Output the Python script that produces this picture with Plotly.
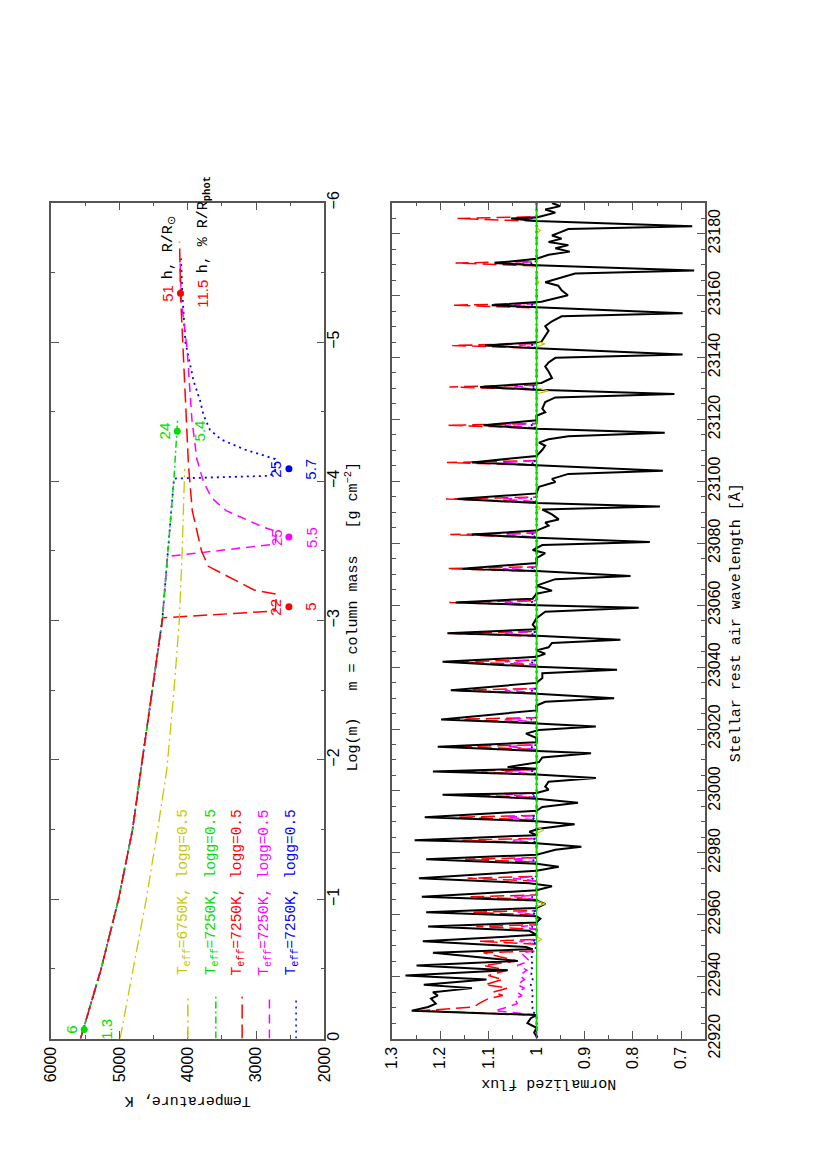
import plotly.graph_objects as go

W, H = 830, 1175
PAD = 8                      # default body margin of the html page
FW, FH = 810, 1140           # a bit smaller than the window so nothing scrolls

# ---------------- top panel: T(log m) structures ----------------
COMMON_LOGM = [0.0, -0.25, -0.5, -1.0, -1.5, -2.0, -2.5, -3.0]
COMMON_T = [5570, 5420, 5270, 5015, 4810, 4667, 4525, 4375]

YELLOW_LOGM = [0.0, -0.5, -1.0, -1.5, -1.93, -2.5, -3.0, -3.5, -4.09]
YELLOW_T = [4992, 4806, 4609, 4442, 4308, 4203, 4125, 4083, 4046]

GREEN_LOGM = COMMON_LOGM + [-3.46, -4.02, -4.44]
GREEN_T = COMMON_T + [4298, 4203, 4150]

RED_LOGM = COMMON_LOGM + [-3.02, -3.07, -3.19, -3.22, -3.39, -3.50, -3.79,
                          -4.11, -4.58, -5.12, -5.35, -5.72]
RED_T = COMMON_T + [4370, 2720, 2700, 3030, 3700, 3800, 3935,
                    3990, 4036, 4093, 4108, 4121]

MAGENTA_LOGM = COMMON_LOGM + [-3.46, -3.55, -3.64, -3.67, -3.79, -3.88, -4.0,
                              -4.16, -4.44, -4.95, -5.3, -5.6]
MAGENTA_T = COMMON_T + [4298, 2720, 2700, 2890, 3440, 3650, 3773,
                        3868, 3940, 4011, 4095, 4115]

BLUE_LOGM = COMMON_LOGM + [-3.46, -4.02, -4.04, -4.08, -4.16, -4.23, -4.30,
                           -4.37, -4.48, -4.58, -4.72, -5.0, -5.37, -5.6]
BLUE_T = COMMON_T + [4298, 4203, 2793, 2720, 2721, 3176, 3510,
                     3677, 3773, 3821, 3916, 4036, 4083, 4100]

TEFF = [6750, 7250, 7250, 7250, 7250]
LOGG = [0.5, 0.5, 0.5, 0.5, 0.5]

# marked points and their two numbers (h in R/Rsun, h in % of R_phot)
DOT_T = [5517, 4155, 4108, 2520, 2520, 2520]
DOT_LOGM = [-0.065, -4.36, -5.35, -3.10, -3.60, -4.09]
H_SUN = ["6", "24", "51", "22", "25", "25"]
H_PCT = ["1.3", "5.4", "11.5", "5", "5.5", "5.7"]

# ---------------- bottom panel: spectra ----------------
MODEL_WL = [
    23190.0,
    23185.5, 23184.9, 23184.0, 23171.1, 23170.5, 23169.6,
    23157.5, 23156.9, 23156.0, 23144.5, 23143.9, 23143.0,
    23131.1, 23130.5, 23129.6, 23118.7, 23118.1, 23117.2,
    23106.7, 23106.1, 23105.2, 23094.9, 23094.3, 23093.4,
    23083.4, 23082.8, 23081.9, 23072.4, 23071.8, 23070.9,
    23061.5, 23060.9, 23060.0, 23051.5, 23050.9, 23050.0,
    23042.3, 23041.7, 23040.8, 23033.1, 23032.5, 23031.6,
    23023.7, 23023.1, 23022.2, 23014.9, 23014.3, 23013.4,
    23006.9, 23006.3, 23005.4, 22999.4, 22998.8, 22997.9,
    22992.1, 22991.5, 22990.6, 22984.7, 22984.1, 22983.2,
    22978.5, 22977.9, 22977.0, 22972.4, 22971.8, 22970.9,
    22966.4, 22965.8, 22964.9, 22961.4, 22960.8, 22959.9,
    22956.8, 22956.2, 22955.3, 22952.0, 22951.4, 22950.5,
    22948.3, 22947.7, 22945.1, 22943.6, 22942.1, 22940.4, 22939.1, 22937.4,
    22936.3, 22935.0, 22933.9, 22932.9, 22931.3, 22930.2, 22929.0, 22927.6,
    22920.0,
]

RED_FLUX = [
    1.0,
    1.0, 1.164, 1.0, 1.0, 1.168, 1.0,
    1.0, 1.175, 1.0, 1.0, 1.175, 1.0,
    1.0, 1.181, 1.0, 1.0, 1.185, 1.0,
    1.0, 1.186, 1.0, 1.0, 1.188, 1.0,
    1.0, 1.179, 1.0, 1.0, 1.186, 1.0,
    1.0, 1.181, 1.0, 1.0, 1.180, 1.0,
    1.0, 1.180, 1.0, 1.0, 1.175, 1.0,
    1.0, 1.175, 1.0, 1.0, 1.170, 1.0,
    1.0, 1.170, 1.0, 1.0, 1.165, 1.0,
    1.0, 1.165, 1.0, 1.0, 1.154, 1.0,
    1.0, 1.148, 1.0, 1.0, 1.143, 1.0,
    1.0, 1.137, 1.0, 1.0, 1.131, 1.0,
    1.0, 1.125, 1.0, 1.0, 1.120, 1.0,
    1.01, 1.11, 1.04, 1.11, 1.06, 1.10, 1.07, 1.107,
    1.06, 1.09, 1.07, 1.10, 1.12, 1.13, 1.24, 1.0,
    1.0,
]

MAGENTA_FLUX = [
    1.0,
    1.0, 1.032, 1.0, 1.0, 1.043, 1.0,
    1.0, 1.046, 1.0, 1.0, 1.036, 1.0,
    1.0, 1.046, 1.0, 1.0, 1.066, 1.0,
    1.0, 1.070, 1.0, 1.0, 1.070, 1.0,
    1.0, 1.063, 1.0, 1.0, 1.070, 1.0,
    1.0, 1.066, 1.0, 1.0, 1.066, 1.0,
    1.0, 1.066, 1.0, 1.0, 1.066, 1.0,
    1.0, 1.066, 1.0, 1.0, 1.060, 1.0,
    1.0, 1.066, 1.0, 1.0, 1.063, 1.0,
    1.0, 1.063, 1.0, 1.0, 1.049, 1.0,
    1.0, 1.053, 1.0, 1.0, 1.049, 1.0,
    1.0, 1.046, 1.0, 1.0, 1.039, 1.0,
    1.0, 1.032, 1.0, 1.0, 1.036, 1.0,
    1.005, 1.032, 1.015, 1.040, 1.020, 1.035, 1.025, 1.040,
    1.025, 1.040, 1.030, 1.045, 1.040, 1.060, 1.087, 1.0,
    1.0,
]

BLUE_FLUX = [
    1.0,
    1.0, 1.012, 1.0, 1.0, 1.012, 1.0,
    1.0, 1.012, 1.0, 1.0, 1.012, 1.0,
    1.0, 1.012, 1.0, 1.0, 1.012, 1.0,
    1.0, 1.012, 1.0, 1.0, 1.012, 1.0,
    1.0, 1.012, 1.0, 1.0, 1.012, 1.0,
    1.0, 1.012, 1.0, 1.0, 1.012, 1.0,
    1.0, 1.012, 1.0, 1.0, 1.012, 1.0,
    1.0, 1.012, 1.0, 1.0, 1.012, 1.0,
    1.0, 1.012, 1.0, 1.0, 1.012, 1.0,
    1.0, 1.012, 1.0, 1.0, 1.010, 1.0,
    1.0, 1.010, 1.0, 1.0, 1.010, 1.0,
    1.0, 1.010, 1.0, 1.0, 1.010, 1.0,
    1.0, 1.010, 1.0, 1.0, 1.010, 1.0,
    1.003, 1.012, 1.008, 1.012, 1.008, 1.012, 1.008, 1.012,
    1.008, 1.010, 1.008, 1.010, 1.008, 1.008, 1.010, 1.0,
    1.0,
]

YELLOW_WL = [23190.0, 23182.0, 23181.0, 23180.0, 23165.3, 23164.3, 23163.3,
             23145.4, 23144.4, 23143.4, 23130.2, 23129.2, 23128.2,
             23092.4, 23091.4, 23090.4, 22988.3, 22987.3, 22986.3,
             22964.5, 22963.5, 22962.5, 22953.0, 22952.0, 22951.0, 22920.0]
YELLOW_FLUX = [1.0, 1.0, 0.992, 1.0, 1.0, 0.995, 1.0,
               1.0, 0.983, 1.0, 1.0, 0.976, 1.0,
               1.0, 0.992, 1.0, 1.0, 0.985, 1.0,
               1.0, 0.983, 1.0, 1.0, 0.990, 1.0, 1.0]

GREEN_WL = [23190.0, 22920.0]
GREEN_FLUX = [1.0, 1.0]

# observed spectrum (wavelength, normalized flux)
OBSERVED = [
    (23189.9, 0.968), (23188.9, 0.951), (23187.8, 0.982), (23186.8, 0.961),
    (23185.7, 0.988), (23185.2, 1.0), (23184.9, 1.053), (23184.1, 1.0),
    (23182.4, 0.677), (23181.5, 0.934), (23180.5, 0.950), (23179.4, 0.968),
    (23178.4, 0.948), (23177.3, 0.975), (23176.3, 0.934), (23175.3, 0.961),
    (23174.2, 0.931), (23173.2, 0.975), (23171.9, 1.0), (23170.5, 1.087),
    (23169.8, 1.0), (23168.1, 0.673), (23167.1, 0.920), (23165.8, 0.950),
    (23164.3, 0.982), (23163.2, 0.955), (23161.7, 0.948), (23160.1, 0.935),
    (23159.0, 0.961), (23158.0, 0.990), (23156.9, 1.093), (23156.2, 1.0),
    (23154.3, 0.697), (23153.3, 0.948), (23151.7, 0.968), (23150.1, 0.982),
    (23148.6, 0.975), (23147.0, 0.982), (23145.1, 0.990), (23143.9, 1.107),
    (23143.0, 1.0), (23141.0, 0.697), (23139.9, 0.961), (23138.4, 0.975),
    (23137.1, 0.982), (23135.5, 0.975), (23133.4, 0.968), (23131.8, 0.990),
    (23130.5, 1.117), (23129.6, 1.0), (23128.2, 0.714), (23127.1, 0.961),
    (23125.6, 0.982), (23123.5, 0.988), (23122.3, 0.982), (23121.2, 1.0),
    (23119.7, 1.0), (23118.1, 1.110), (23117.0, 1.0), (23115.7, 0.734),
    (23114.6, 0.934), (23113.6, 0.975), (23112.5, 0.995), (23111.5, 0.982),
    (23110.2, 0.988), (23108.2, 1.0), (23106.1, 1.134), (23105.2, 1.0),
    (23103.4, 0.738), (23102.4, 0.934), (23100.8, 0.968), (23099.8, 0.961),
    (23098.2, 0.995), (23096.1, 1.0), (23094.3, 1.164), (23093.0, 1.0),
    (23091.9, 0.744), (23090.9, 0.988), (23089.3, 0.968), (23087.7, 0.954),
    (23086.7, 0.982), (23085.7, 0.975), (23084.1, 1.0), (23082.8, 1.134),
    (23081.8, 1.0), (23080.4, 0.765), (23079.4, 0.988), (23077.8, 1.008),
    (23076.8, 0.982), (23075.2, 1.0), (23073.6, 1.0), (23071.8, 1.154),
    (23071.0, 1.0), (23069.4, 0.805), (23068.4, 0.961), (23066.3, 1.0),
    (23064.7, 0.968), (23063.7, 1.0), (23062.1, 1.008), (23060.9, 1.168),
    (23060.0, 1.0), (23059.2, 0.788), (23057.9, 0.982), (23055.8, 1.0),
    (23053.7, 1.008), (23052.2, 1.0), (23050.9, 1.185), (23050.1, 1.0),
    (23048.8, 0.826), (23047.8, 0.968), (23046.4, 0.975), (23045.4, 1.0),
    (23044.3, 0.982), (23043.3, 1.0), (23041.7, 1.195), (23040.1, 1.0),
    (23039.1, 0.833), (23038.0, 0.988), (23036.5, 0.988), (23034.9, 1.0),
    (23032.5, 1.178), (23031.4, 1.0), (23029.9, 0.839), (23028.8, 0.982),
    (23027.6, 1.0), (23026.0, 1.0), (23023.1, 1.198), (23021.8, 1.0),
    (23020.8, 0.877), (23019.7, 0.995), (23018.5, 1.022), (23017.1, 1.0),
    (23015.7, 1.0), (23014.3, 1.205), (23012.9, 1.0), (23012.2, 0.887),
    (23010.8, 0.988), (23009.3, 0.995), (23007.7, 1.060), (23007.2, 1.0),
    (23006.3, 1.215), (23005.3, 1.0), (23004.2, 0.877), (23003.0, 0.975),
    (23001.4, 0.982), (23000.4, 0.975), (22999.3, 1.0), (22998.8, 1.195),
    (22997.5, 1.0), (22996.2, 0.914), (22994.8, 0.988), (22993.6, 1.0),
    (22991.5, 1.232), (22990.2, 1.0), (22989.2, 0.921), (22987.8, 0.995),
    (22986.8, 1.015), (22985.7, 1.0), (22984.1, 1.253), (22983.1, 1.0),
    (22982.0, 0.907), (22981.0, 0.961), (22979.4, 1.0), (22977.9, 1.229),
    (22976.5, 1.0), (22975.5, 0.954), (22974.2, 1.0), (22971.8, 1.244),
    (22970.2, 1.015), (22969.2, 0.968), (22967.9, 1.0), (22965.8, 1.238),
    (22964.6, 1.0), (22963.5, 0.982), (22962.2, 1.0), (22960.8, 1.229),
    (22959.5, 1.0), (22958.7, 0.992), (22957.5, 1.0), (22956.2, 1.225),
    (22954.8, 1.015), (22953.5, 1.0), (22951.4, 1.236), (22949.6, 1.022),
    (22948.9, 1.008), (22947.7, 1.215), (22945.1, 1.039), (22943.6, 1.249),
    (22942.1, 1.060), (22940.4, 1.272), (22939.1, 1.104), (22937.4, 1.234),
    (22936.3, 1.134), (22935.0, 1.215), (22933.9, 1.205), (22932.9, 1.219),
    (22931.3, 1.209), (22930.2, 1.225), (22929.0, 1.259), (22927.6, 1.0),
    (22926.6, 1.012), (22925.0, 1.019), (22923.5, 1.0), (22921.9, 1.005),
    (22920.3, 0.998),
]

# ---------------- styles ----------------
C_YEL, C_GRN, C_RED, C_MAG, C_BLU = "#c8c800", "#00dd00", "#ff0000", "#ff00ff", "#0000ff"
D_YEL = "12px,4px,2px,4px"
D_GRN = "7px,3px,2px,3px"
D_RED = "14px,6px"
D_MAG = "9px,6px"
D_BLU = "2px,4px"
DOT_COLORS = [C_GRN, C_GRN, C_RED, C_RED, C_MAG, C_BLU]

MONO = "Liberation Mono"
SANS = "Liberation Sans"
FRAME = "#555555"


def px(x):
    """page x pixel -> paper fraction"""
    return (x - PAD) / FW


def py(y):
    """page y pixel (from top) -> paper fraction"""
    return 1 - (y - PAD) / FH


fig = go.Figure()


def line(x, y, color, dash, width, xa="x", ya="y"):
    fig.add_trace(go.Scatter(x=x, y=y, mode="lines", xaxis=xa, yaxis=ya,
                             line=dict(color=color, dash=dash, width=width),
                             hoverinfo="skip", showlegend=False))


# top panel (x = temperature, y = log m)
line(BLUE_T, BLUE_LOGM, C_BLU, D_BLU, 1.8)
line(MAGENTA_T, MAGENTA_LOGM, C_MAG, D_MAG, 1.5)
line(GREEN_T, GREEN_LOGM, C_GRN, D_GRN, 1.5)
line(RED_T, RED_LOGM, C_RED, D_RED, 1.5)
line(YELLOW_T, YELLOW_LOGM, C_YEL, D_YEL, 1.3)

fig.add_trace(go.Scatter(x=DOT_T, y=DOT_LOGM, mode="markers", xaxis="x", yaxis="y",
                         marker=dict(color=DOT_COLORS, size=7),
                         hoverinfo="skip", showlegend=False))

# bottom panel (x = flux, y = wavelength)
obs_wl = [p[0] for p in OBSERVED]
obs_fl = [p[1] for p in OBSERVED]
line(RED_FLUX, MODEL_WL, C_RED, D_RED, 1.5, "x2", "y2")
line(MAGENTA_FLUX, MODEL_WL, C_MAG, D_MAG, 1.5, "x2", "y2")
line(BLUE_FLUX, MODEL_WL, C_BLU, D_BLU, 1.8, "x2", "y2")
line(obs_fl, obs_wl, "black", "solid", 2.0, "x2", "y2")
line(YELLOW_FLUX, YELLOW_WL, C_YEL, "solid", 1.2, "x2", "y2")
line(GREEN_FLUX, GREEN_WL, C_GRN, "solid", 1.0, "x2", "y2")

ann = []
# numbers next to the marked points
for t, lm, hs, hp, c in zip(DOT_T, DOT_LOGM, H_SUN, H_PCT, DOT_COLORS):
    for txt, dx in ((hs, -13), (hp, 22)):
        ann.append(dict(x=t, y=lm, xref="x", yref="y", text=txt, showarrow=False,
                        xanchor="center", yanchor="middle",
                        textangle=-90, xshift=dx, font=dict(family=SANS, size=15, color=c)))

# key for the two numbers, continuing after "51" and "11.5"
ann.append(dict(x=DOT_T[2], y=DOT_LOGM[2], xref="x", yref="y",
                xanchor="center", yanchor="bottom",
                text="h, R/R<sub>⊙</sub>", showarrow=False, textangle=-90,
                xshift=-12, yshift=12, font=dict(family=MONO, size=15, color="black")))
ann.append(dict(x=DOT_T[2], y=DOT_LOGM[2], xref="x", yref="y",
                xanchor="center", yanchor="bottom",
                text="h, % R/R<sub><b>phot</b></sub>", showarrow=False, textangle=-90,
                xshift=23, yshift=18, font=dict(family=MONO, size=15, color="black")))

# in-panel legend
LEG_T = [4000, 3590, 3205, 2805, 2415]
LEG_C = [C_YEL, C_GRN, C_RED, C_MAG, C_BLU]
LEG_D = [D_YEL, D_GRN, D_RED, D_MAG, D_BLU]
shapes = []
for t, c, d, te, lg in zip(LEG_T, LEG_C, LEG_D, TEFF, LOGG):
    shapes.append(dict(type="line", xref="x", yref="y", x0=t, x1=t, y0=0, y1=-0.30,
                       line=dict(color=c, dash=d, width=1.5)))
    ann.append(dict(x=t, y=-0.44, xref="x", yref="y", xanchor="center", yanchor="bottom",
                    xshift=-4, text=f"T<sub>eff</sub>={te}K, logg={lg}", showarrow=False,
                    textangle=-90, font=dict(family=MONO, size=14.5, color=c)))

# axis titles (the whole figure is turned by 90 degrees)
title_font = dict(family=MONO, size=15, color="black")
for x, y, txt, ang in [
    (182.5, 1119, "Temperature, K", 180),
    (551, 1102, "Normalized flux", 180),
    (350, 622, "Log(m)\u00a0\u00a0\u00a0m = column mass\u00a0\u00a0\u00a0[g cm<sup>−2</sup>]", -90),
    (743, 628, "Stellar rest air wavelength [Å]", -90),
]:
    ann.append(dict(x=px(x), y=py(y), xref="paper", yref="paper", text=txt,
                    xanchor="center", yanchor="middle",
                    textangle=ang, showarrow=False, font=title_font))

axis = dict(showline=True, linecolor=FRAME, linewidth=1.5, mirror="allticks",
            ticks="inside", ticklen=8, tickwidth=1.2, tickcolor=FRAME,
            showgrid=False, zeroline=False, tickangle=-90, tickformat="d",
            tickfont=dict(family=SANS, size=16, color="black"))
minor = dict(ticks="inside", ticklen=4, tickwidth=1.2, tickcolor=FRAME)

y_dom = [py(1056), py(196)]
fig.update_layout(
    width=FW, height=FH, margin=dict(l=0, r=0, t=0, b=0),
    paper_bgcolor="white", plot_bgcolor="white",
    xaxis=dict(axis, domain=[px(43), px(322)], range=[6000, 2000], dtick=1000,
               anchor="y", minor=dict(minor, dtick=500)),
    yaxis=dict(axis, domain=y_dom, range=[0, -6], dtick=1, side="right",
               anchor="x", ticklabelstandoff=-6, minor=dict(minor, dtick=0.5)),
    xaxis2=dict(axis, domain=[px(391), px(711)], range=[1.3, 0.65], dtick=0.1,
                tickformat="", anchor="y2", minor=dict(minor, dtick=0.05)),
    yaxis2=dict(axis, domain=y_dom, range=[22920, 23190], dtick=20, side="right",
                anchor="x2", ticklabelstandoff=-6, minor=dict(minor, dtick=5)),
    annotations=ann, shapes=shapes,
)

fig.write_html("out.html", config={"displayModeBar": False})
